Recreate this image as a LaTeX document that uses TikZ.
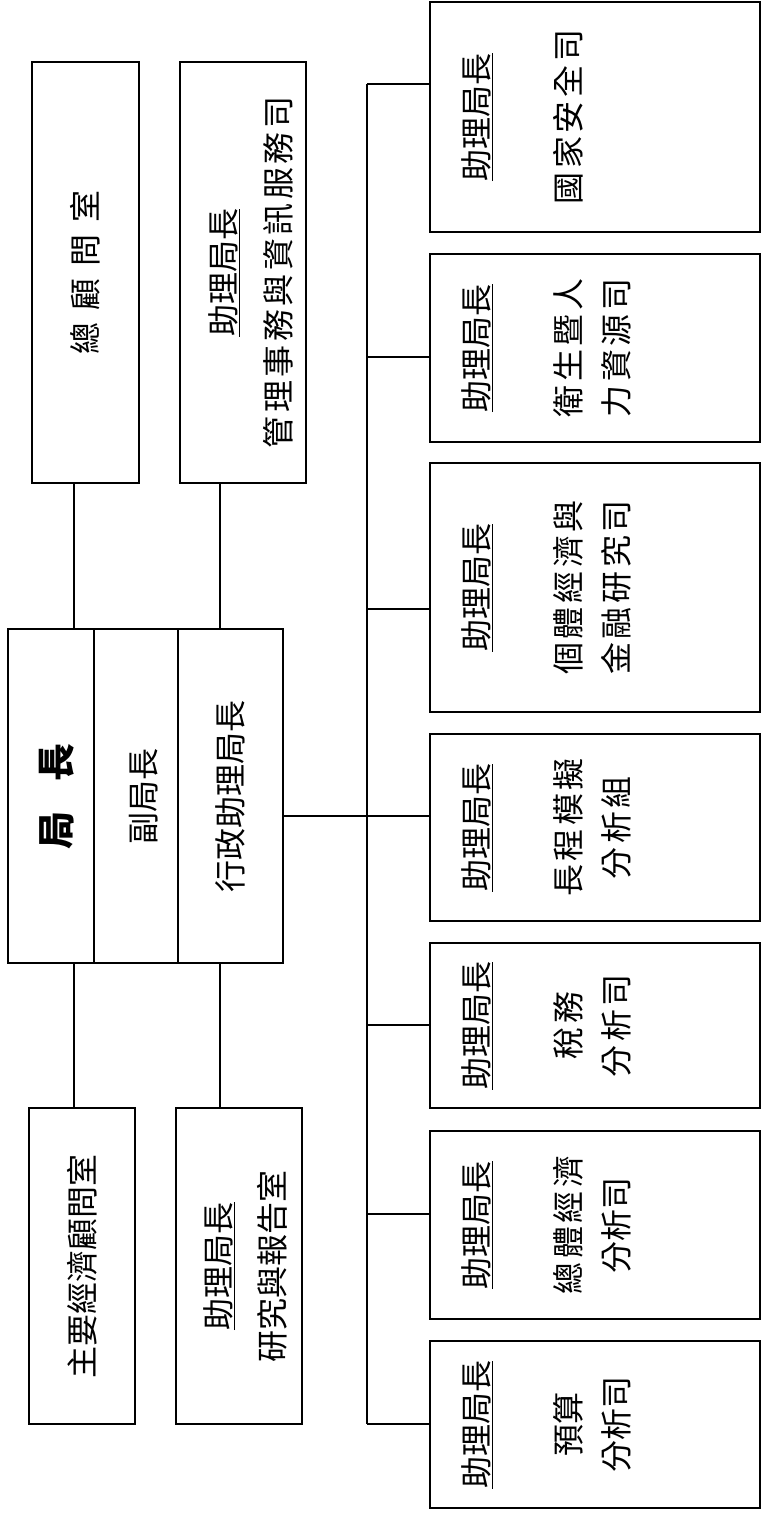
\documentclass[tikz,border=0pt]{standalone}
\usepackage{fontspec}
\setmainfont{Noto Sans CJK TC}
\usetikzlibrary{positioning}

\newcommand{\gap}[1]{\hspace{#1pt}}
\newcommand{\hd}{\underline{助理局長}}
\newcommand{\wide}{\addfontfeature{LetterSpace=11}}

\tikzset{
  box/.style={draw, line width=1.2pt, inner sep=0pt},
  lbl/.style={inner sep=0pt},
  link/.style={line width=1.2pt}
}

\begin{document}
\begin{tikzpicture}[x=1pt, y=-1pt, font=\fontsize{32}{48}\selectfont]
\useasboundingbox (0,0) rectangle (765,1513);

% left side, upper row
\node[box, minimum width=107pt, minimum height=421pt] (zgw) at (85.5,272.5)
  {\rotatebox{90}{總\gap{12}顧\gap{12}問\gap{12}室}};
\node[box, minimum width=126pt, minimum height=421pt] (glsw) at (243,272.5)
  {\hspace{20pt}\rotatebox{90}{\begin{tabular}{c}\hd\\[7pt]{\wide 管理事務與資訊服務司}\end{tabular}}};

% director block
\node[box, minimum width=86pt, minimum height=334pt] (jz) at (51,796)
  {\hspace{12pt}\rotatebox{90}{\fontsize{38}{48}\selectfont\bfseries 局\gap{30}長}};
\node[box, minimum width=84pt, minimum height=334pt] (fjz) at (136,796)
  {\hspace{16pt}\rotatebox{90}{副局長}};
\node[box, minimum width=105pt, minimum height=334pt] (xzzl) at (230.5,796)
  {\rotatebox{90}{行政助理局長}};

% left side, lower row
\node[box, minimum width=106pt, minimum height=316pt] (zyjj) at (82,1266)
  {\rotatebox{90}{主要經濟顧問室}};
\node[box, minimum width=126pt, minimum height=316pt] (yjbg) at (239,1266)
  {\hspace{18pt}\rotatebox{90}{\begin{tabular}{c}\hd\\[6pt]研究與報告室\end{tabular}}};

% divisions on the right
\node[box, minimum width=330pt, minimum height=230pt] (r1) at (595,117) {};
\node[box, minimum width=330pt, minimum height=188pt] (r2) at (595,348) {};
\node[box, minimum width=330pt, minimum height=249pt] (r3) at (595,587.5) {};
\node[box, minimum width=330pt, minimum height=187pt] (r4) at (595,827.5) {};
\node[box, minimum width=330pt, minimum height=165pt] (r5) at (595,1025.5) {};
\node[box, minimum width=330pt, minimum height=188pt] (r6) at (595,1225) {};
\node[box, minimum width=330pt, minimum height=167pt] (r7) at (595,1424.5) {};

\node[lbl, right=25pt of r1.west] (r1t)
  {\rotatebox{90}{\begin{tabular}{c}\hd\\[44pt]{\wide 國家安全司}\end{tabular}}};
\node[lbl, right=25pt of r2.west] (r2t)
  {\rotatebox{90}{\begin{tabular}{c}\hd\\[44pt]{\wide 衛生暨人}\\{\wide 力資源司}\end{tabular}}};
\node[lbl, right=25pt of r3.west] (r3t)
  {\rotatebox{90}{\begin{tabular}{c}\hd\\[44pt]{\wide 個體經濟與}\\{\wide 金融研究司}\end{tabular}}};
\node[lbl, right=25pt of r4.west] (r4t)
  {\rotatebox{90}{\begin{tabular}{c}\hd\\[44pt]{\wide 長程模擬}\\{\wide 分析組}\end{tabular}}};
\node[lbl, right=25pt of r5.west] (r5t)
  {\rotatebox{90}{\begin{tabular}{c}\hd\\[44pt]{\wide 稅務}\\{\wide 分析司}\end{tabular}}};
\node[lbl, right=25pt of r6.west] (r6t)
  {\rotatebox{90}{\begin{tabular}{c}\hd\\[44pt]{\wide 總體經濟}\\分析司\end{tabular}}};
\node[lbl, right=25pt of r7.west] (r7t)
  {\rotatebox{90}{\begin{tabular}{c}\hd\\[44pt]預算\\分析司\end{tabular}}};

% links
\coordinate (c1) at (74,0);
\coordinate (c2) at (220,0);
\draw[link] (zgw.south -| c1) -- (jz.north -| c1);
\draw[link] (jz.south -| c1) -- (zyjj.north -| c1);
\draw[link] (glsw.south -| c2) -- (xzzl.north -| c2);
\draw[link] (xzzl.south -| c2) -- (yjbg.north -| c2);

\foreach \i/\yy in {1/84, 2/357, 3/609, 4/816, 5/1025, 6/1214, 7/1424} {
  \coordinate (b\i) at (367,\yy);
  \draw[link] (b\i) -- (b\i -| r\i.west);
}
\draw[link] (b1) -- (b7);
\draw[link] (xzzl.east |- b4) -- (b4);
\end{tikzpicture}
\end{document}
